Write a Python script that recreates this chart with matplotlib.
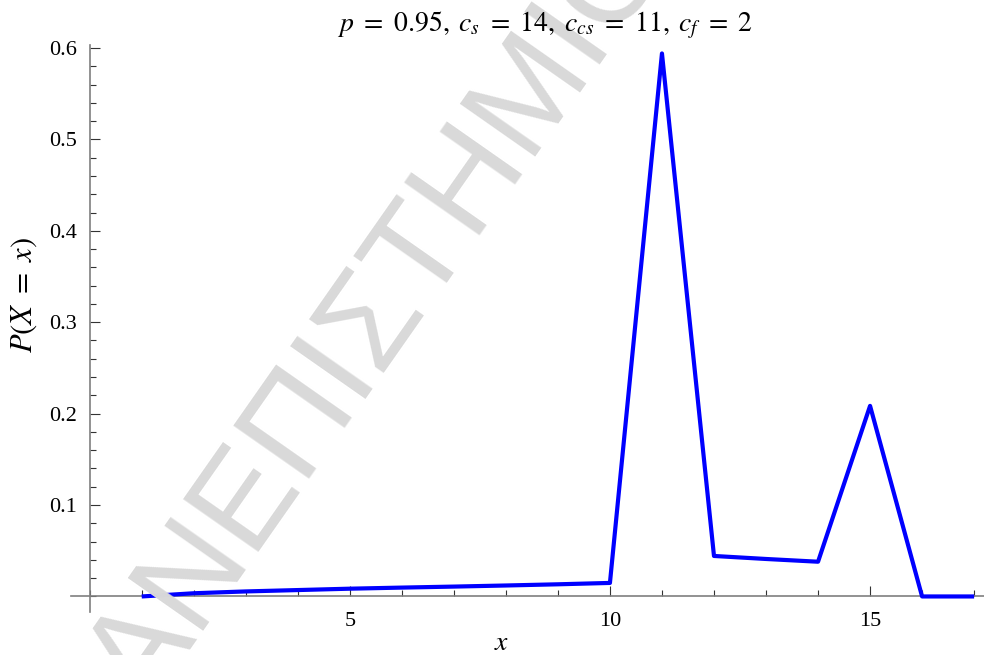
import matplotlib
matplotlib.use('Agg')
import matplotlib.pyplot as plt
from matplotlib.ticker import FixedLocator, MultipleLocator

# ---- data ----
x_values = list(range(1, 18))
p_values = [0.0, 0.0035, 0.0055, 0.007, 0.0085, 0.0097, 0.0108, 0.012, 0.0133,
            0.0148, 0.594, 0.0443, 0.041, 0.038, 0.2085, 0.0, 0.0]
x_major_ticks = [5, 10, 15]
x_major_labels = ['5', '10', '15']
y_major_ticks = [0.1, 0.2, 0.3, 0.4, 0.5, 0.6]
y_major_labels = ['0.1', '0.2', '0.3', '0.4', '0.5', '0.6']
title_text = r'$p\ =\ 0.95,\;c_s\ =\ 14,\;c_{cs}\ =\ 11,\;c_f\ =\ 2$'
xlabel_text = r'$x$'
ylabel_text = r'$P(X\ =\ x)$'
watermark_text = 'ΑΝΕΠΙΣΤΗΜΙΟ'

plt.rcParams['mathtext.fontset'] = 'stix'

W, H = 984, 655
fig = plt.figure(figsize=(W / 100, H / 100), dpi=100)
fig.patch.set_facecolor('white')

# watermark
fig.text(382 / W, 1 - 315 / H, watermark_text, rotation=55, rotation_mode='anchor',
         ha='center', va='center', fontsize=96, color='#d9d9d9',
         family='Liberation Sans', zorder=0)

ax = fig.add_axes([71 / W, 43 / H, 913 / W, (612 - 44.5) / H])
ax.patch.set_alpha(0)
ax.set_xlim(-0.359, 17.19)
ax.set_ylim(-0.017, 0.6038)

ax.plot(x_values, p_values, color='#0000ff', lw=3.0, solid_joinstyle='round',
        solid_capstyle='butt', zorder=3)

for s in ['top', 'right']:
    ax.spines[s].set_visible(False)
ax.spines['left'].set_position(('data', 0))
ax.spines['bottom'].set_position(('data', 0))
for s in ['left', 'bottom']:
    ax.spines[s].set_color('#7f7f7f')
    ax.spines[s].set_linewidth(1.2)

ax.xaxis.set_major_locator(FixedLocator(x_major_ticks))
ax.set_xticklabels(x_major_labels)
ax.xaxis.set_minor_locator(MultipleLocator(1))
ax.yaxis.set_major_locator(FixedLocator(y_major_ticks))
ax.set_yticklabels(y_major_labels)
ax.yaxis.set_minor_locator(MultipleLocator(0.02))

ax.tick_params(which='major', direction='in', length=7.2, width=0.8, color='#333333',
               labelsize=16, labelfontfamily='Liberation Serif')
ax.tick_params(which='minor', direction='in', length=4.3, width=0.8, color='#333333')
ax.tick_params(axis='x', which='major', pad=11)
ax.tick_params(axis='y', which='major', pad=9)

fig.text(545 / W, 1 - 25 / H, title_text, ha='center', va='center', fontsize=20)
fig.text(502 / W, 1 - 642 / H, xlabel_text, ha='center', va='center', fontsize=20)
fig.text(24 / W, 1 - 295 / H, ylabel_text, ha='center', va='center', fontsize=22,
         rotation=90)

fig.savefig('out.png', dpi=100, facecolor='white')
